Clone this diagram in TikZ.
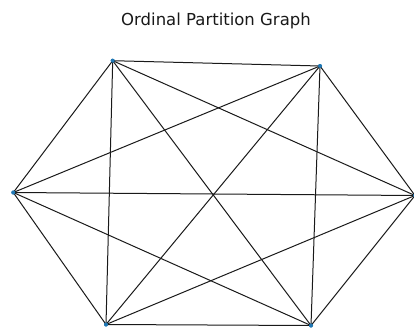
\documentclass[tikz,border=0pt]{standalone}
\usepackage{fontspec}
\setmainfont{DejaVu Sans}
\definecolor{mplblue}{HTML}{1F77B4}
\definecolor{edgegray}{HTML}{1A1A1A}
\tikzset{
  vdot/.style={circle,fill=mplblue,draw=none,inner sep=0pt,minimum size=4pt},
  gedge/.style={draw=edgegray,line width=1pt},
  titletext/.style={font=\fontsize{16.5}{19}\selectfont,text=black!90}
}
\begin{document}
\begin{tikzpicture}[x=1pt,y=-1pt]
\useasboundingbox (0,0) rectangle (414,329);
\fill[white] (0,0) rectangle (414,329);
\node[titletext] (title) at (216,20.5) {Ordinal Partition Graph};
\node[vdot] (a) at (112.7,60.7) {};
\node[vdot] (b) at (320,66) {};
\node[vdot] (c) at (13.3,192.5) {};
\node[vdot] (d) at (415,195.5) {};
\node[vdot] (e) at (106,324.5) {};
\node[vdot] (f) at (311,325.5) {};
\foreach \u/\v in {a/b,a/c,a/d,a/e,a/f,b/c,b/d,b/e,b/f,c/d,c/e,c/f,d/e,d/f,e/f}
  \draw[gedge] (\u.center) -- (\v.center);
\foreach \n in {a,b,c,d,e,f}
  \fill[mplblue] (\n.center) circle (2pt);
\end{tikzpicture}
\end{document}
